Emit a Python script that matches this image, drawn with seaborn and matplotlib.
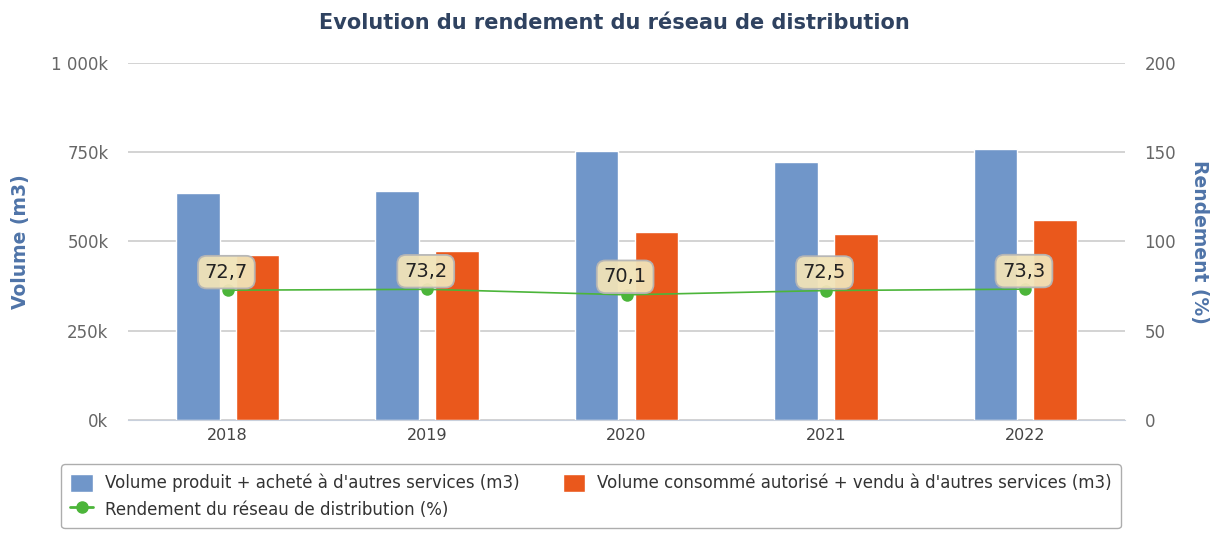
import pandas as pd
import numpy as np
import matplotlib
matplotlib.use("Agg")
import matplotlib.pyplot as plt
import seaborn as sns
from matplotlib.patches import Patch
from matplotlib.lines import Line2D

annees = ["2018", "2019", "2020", "2021", "2022"]
volume_produit = [636000, 641000, 753000, 723000, 759000]
volume_consomme = [462000, 473000, 527000, 521000, 560000]
rendement = [72.7, 73.2, 70.1, 72.5, 73.3]

serie_produit = "Volume produit + acheté à d'autres services (m3)"
serie_consomme = "Volume consommé autorisé + vendu à d'autres services (m3)"
serie_rendement = "Rendement du réseau de distribution (%)"

couleur_bleu = "#7096c9"
couleur_orange = "#ea581c"
couleur_vert = "#4cb53a"
couleur_titre = "#2f4260"
couleur_axe = "#4f74a8"
couleur_ticks = "#666666"

sns.set_style("white")
plt.rcParams["font.family"] = ["DejaVu Sans"]

volumes = pd.DataFrame({
    "annee": annees * 2,
    "volume": volume_produit + volume_consomme,
    "serie": [serie_produit] * 5 + [serie_consomme] * 5,
})
rend = pd.DataFrame({"annee": annees, "rendement": rendement})

fig = plt.figure(figsize=(12.23, 5.33), dpi=100)
ax = fig.add_axes([0.1047, 0.212, 0.8152, 0.670])

sns.barplot(data=volumes, x="annee", y="volume", hue="serie",
            palette=[couleur_bleu, couleur_orange], width=0.6, gap=0.27,
            saturation=1, ax=ax, legend=False, zorder=2)

ax.set_ylim(0, 1000000)
ax.set_yticks([0, 250000, 500000, 750000, 1000000])
ax.set_yticklabels(["0k", "250k", "500k", "750k", "1 000k"])
ax.set_xlim(-0.5, 4.5)
ax.grid(axis="y", color="#cccccc", linewidth=1.2, zorder=0)
ax.set_axisbelow(True)
for s in ["top", "left", "right"]:
    ax.spines[s].set_visible(False)
ax.spines["bottom"].set_color("#c8d0dc")
ax.tick_params(axis="y", length=0, labelsize=12, labelcolor=couleur_ticks, pad=14)
ax.tick_params(axis="x", length=0, labelsize=11.5, labelcolor="#444444", pad=6)
# separateurs entre categories
ax.set_xticks([0.5, 1.5, 2.5, 3.5], minor=True)
ax.tick_params(axis="x", which="minor", length=8, color="#c8d0dc", width=1)
ax.set_xlabel("")
ax.set_ylabel("Volume (m3)", fontsize=13.5, fontweight="bold", color=couleur_axe)
ax.yaxis.set_label_coords(-0.098, 0.5)

ax2 = ax.twinx()
sns.lineplot(data=rend, x="annee", y="rendement", color=couleur_vert, marker="o",
             markersize=9, markeredgewidth=0, linewidth=1.2, ax=ax2, zorder=3)
ax2.set_ylim(0, 200)
ax2.set_yticks([0, 50, 100, 150, 200])
for s in ["top", "left", "right", "bottom"]:
    ax2.spines[s].set_visible(False)
ax2.tick_params(axis="y", length=0, labelsize=12, labelcolor=couleur_ticks, pad=14)
ax2.set_ylabel("Rendement (%)", fontsize=13.5, fontweight="bold", color=couleur_axe,
               rotation=270)
ax2.yaxis.set_label_coords(1.084, 0.5)

for i, v in enumerate(rendement):
    ax2.annotate(f"{v:.1f}".replace(".", ","), xy=(i, v), xytext=(-1, 13),
                 textcoords="offset points", ha="center", va="center",
                 fontsize=14, color="#222222", zorder=5,
                 bbox=dict(boxstyle="round,pad=0.35,rounding_size=0.45",
                           facecolor="#f1e3b8", edgecolor="#b5b5b5", linewidth=1.3, alpha=0.95))

fig.suptitle("Evolution du rendement du réseau de distribution", x=0.502, y=0.975,
             fontsize=15, fontweight="bold", color=couleur_titre)

handles = [
    Patch(facecolor=couleur_bleu, label=serie_produit),
    Line2D([0], [0], color=couleur_vert, marker="o", markersize=8, linewidth=2, label=serie_rendement),
    Patch(facecolor=couleur_orange, label=serie_consomme),
]
leg = fig.legend(handles=handles, ncol=2, loc="lower left", bbox_to_anchor=(0.046, 0.0),
                 frameon=True, fontsize=12, handlelength=1.35, handleheight=1.35,
                 columnspacing=2.6, handletextpad=0.7, labelspacing=0.45,
                 borderpad=0.55, borderaxespad=0.3, fancybox=True)
leg.get_frame().set_edgecolor("#999999")
leg.get_frame().set_linewidth(1.0)
for t in leg.get_texts():
    t.set_color("#333333")

fig.savefig("out.png", dpi=100)
